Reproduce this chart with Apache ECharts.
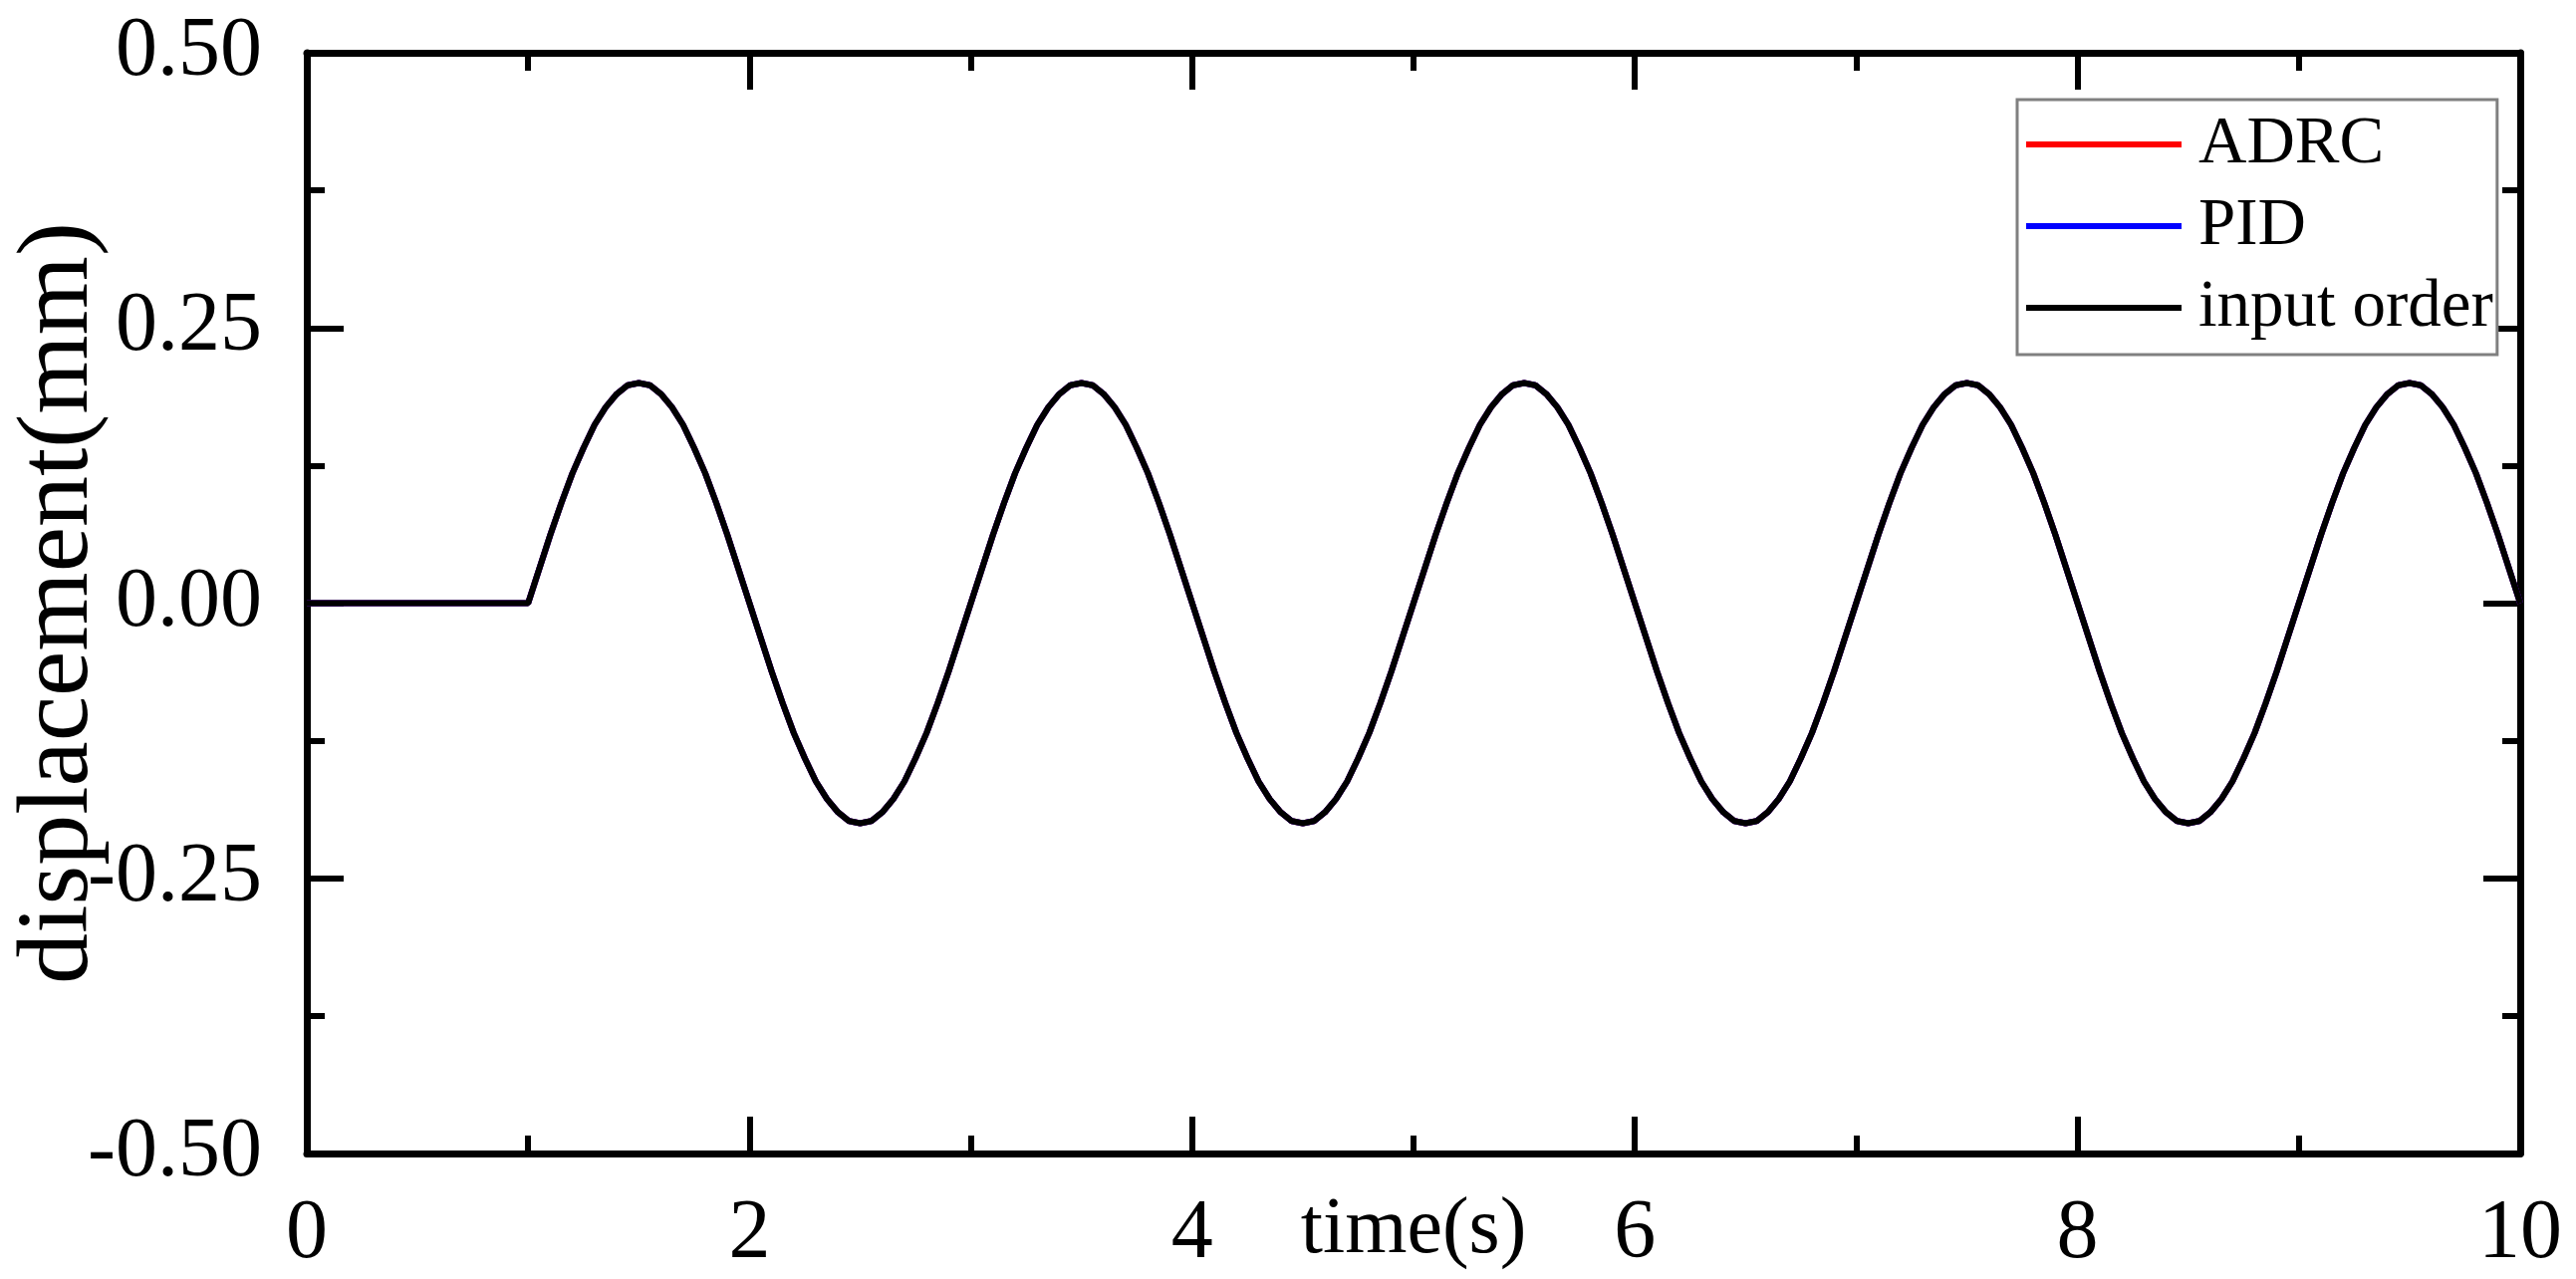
<!DOCTYPE html>
<html>
<head>
<meta charset="utf-8">
<script src="https://cdn.jsdelivr.net/npm/echarts@6/dist/echarts.min.js"></script>
<style>
html,body{margin:0;padding:0;background:#fff;}
#chart{width:2586px;height:1284px;}
</style>
</head>
<body>
<div id="chart"></div>
<script>
// time (s)
const timeS = [
0,0.05,0.1,0.15,0.2,0.25,0.3,0.35,0.4,0.45,0.5,0.55,0.6,0.65,0.7,0.75,0.8,0.85,0.9,0.95,
1,1.05,1.1,1.15,1.2,1.25,1.3,1.35,1.4,1.45,1.5,1.55,1.6,1.65,1.7,1.75,1.8,1.85,1.9,1.95,
2,2.05,2.1,2.15,2.2,2.25,2.3,2.35,2.4,2.45,2.5,2.55,2.6,2.65,2.7,2.75,2.8,2.85,2.9,2.95,
3,3.05,3.1,3.15,3.2,3.25,3.3,3.35,3.4,3.45,3.5,3.55,3.6,3.65,3.7,3.75,3.8,3.85,3.9,3.95,
4,4.05,4.1,4.15,4.2,4.25,4.3,4.35,4.4,4.45,4.5,4.55,4.6,4.65,4.7,4.75,4.8,4.85,4.9,4.95,
5,5.05,5.1,5.15,5.2,5.25,5.3,5.35,5.4,5.45,5.5,5.55,5.6,5.65,5.7,5.75,5.8,5.85,5.9,5.95,
6,6.05,6.1,6.15,6.2,6.25,6.3,6.35,6.4,6.45,6.5,6.55,6.6,6.65,6.7,6.75,6.8,6.85,6.9,6.95,
7,7.05,7.1,7.15,7.2,7.25,7.3,7.35,7.4,7.45,7.5,7.55,7.6,7.65,7.7,7.75,7.8,7.85,7.9,7.95,
8,8.05,8.1,8.15,8.2,8.25,8.3,8.35,8.4,8.45,8.5,8.55,8.6,8.65,8.7,8.75,8.8,8.85,8.9,8.95,
9,9.05,9.1,9.15,9.2,9.25,9.3,9.35,9.4,9.45,9.5,9.55,9.6,9.65,9.7,9.75,9.8,9.85,9.9,9.95,
10
];

// input order displacement (mm)
const inputOrder = [
0,0,0,0,0,0,0,0,0,0,0,0,0,0,0,0,0,0,0,0,
0,0.031,0.062,0.091,0.118,0.141,0.162,0.178,0.19,0.198,0.2,0.198,0.19,0.178,0.162,0.141,0.118,0.091,0.062,0.031,
0,-0.031,-0.062,-0.091,-0.118,-0.141,-0.162,-0.178,-0.19,-0.198,-0.2,-0.198,-0.19,-0.178,-0.162,-0.141,-0.118,-0.091,-0.062,-0.031,
0,0.031,0.062,0.091,0.118,0.141,0.162,0.178,0.19,0.198,0.2,0.198,0.19,0.178,0.162,0.141,0.118,0.091,0.062,0.031,
0,-0.031,-0.062,-0.091,-0.118,-0.141,-0.162,-0.178,-0.19,-0.198,-0.2,-0.198,-0.19,-0.178,-0.162,-0.141,-0.118,-0.091,-0.062,-0.031,
0,0.031,0.062,0.091,0.118,0.141,0.162,0.178,0.19,0.198,0.2,0.198,0.19,0.178,0.162,0.141,0.118,0.091,0.062,0.031,
0,-0.031,-0.062,-0.091,-0.118,-0.141,-0.162,-0.178,-0.19,-0.198,-0.2,-0.198,-0.19,-0.178,-0.162,-0.141,-0.118,-0.091,-0.062,-0.031,
0,0.031,0.062,0.091,0.118,0.141,0.162,0.178,0.19,0.198,0.2,0.198,0.19,0.178,0.162,0.141,0.118,0.091,0.062,0.031,
0,-0.031,-0.062,-0.091,-0.118,-0.141,-0.162,-0.178,-0.19,-0.198,-0.2,-0.198,-0.19,-0.178,-0.162,-0.141,-0.118,-0.091,-0.062,-0.031,
0,0.031,0.062,0.091,0.118,0.141,0.162,0.178,0.19,0.198,0.2,0.198,0.19,0.178,0.162,0.141,0.118,0.091,0.062,0.031,
0
];

// ADRC response (mm) - tracks the input order
const adrc = [
0,0,0,0,0,0,0,0,0,0,0,0,0,0,0,0,0,0,0,0,
0,0.031,0.062,0.091,0.118,0.141,0.162,0.178,0.19,0.198,0.2,0.198,0.19,0.178,0.162,0.141,0.118,0.091,0.062,0.031,
0,-0.031,-0.062,-0.091,-0.118,-0.141,-0.162,-0.178,-0.19,-0.198,-0.2,-0.198,-0.19,-0.178,-0.162,-0.141,-0.118,-0.091,-0.062,-0.031,
0,0.031,0.062,0.091,0.118,0.141,0.162,0.178,0.19,0.198,0.2,0.198,0.19,0.178,0.162,0.141,0.118,0.091,0.062,0.031,
0,-0.031,-0.062,-0.091,-0.118,-0.141,-0.162,-0.178,-0.19,-0.198,-0.2,-0.198,-0.19,-0.178,-0.162,-0.141,-0.118,-0.091,-0.062,-0.031,
0,0.031,0.062,0.091,0.118,0.141,0.162,0.178,0.19,0.198,0.2,0.198,0.19,0.178,0.162,0.141,0.118,0.091,0.062,0.031,
0,-0.031,-0.062,-0.091,-0.118,-0.141,-0.162,-0.178,-0.19,-0.198,-0.2,-0.198,-0.19,-0.178,-0.162,-0.141,-0.118,-0.091,-0.062,-0.031,
0,0.031,0.062,0.091,0.118,0.141,0.162,0.178,0.19,0.198,0.2,0.198,0.19,0.178,0.162,0.141,0.118,0.091,0.062,0.031,
0,-0.031,-0.062,-0.091,-0.118,-0.141,-0.162,-0.178,-0.19,-0.198,-0.2,-0.198,-0.19,-0.178,-0.162,-0.141,-0.118,-0.091,-0.062,-0.031,
0,0.031,0.062,0.091,0.118,0.141,0.162,0.178,0.19,0.198,0.2,0.198,0.19,0.178,0.162,0.141,0.118,0.091,0.062,0.031,
0
];

// PID response (mm) - tracks the input order
const pid = [
0,0,0,0,0,0,0,0,0,0,0,0,0,0,0,0,0,0,0,0,
0,0.031,0.062,0.091,0.118,0.141,0.162,0.178,0.19,0.198,0.2,0.198,0.19,0.178,0.162,0.141,0.118,0.091,0.062,0.031,
0,-0.031,-0.062,-0.091,-0.118,-0.141,-0.162,-0.178,-0.19,-0.198,-0.2,-0.198,-0.19,-0.178,-0.162,-0.141,-0.118,-0.091,-0.062,-0.031,
0,0.031,0.062,0.091,0.118,0.141,0.162,0.178,0.19,0.198,0.2,0.198,0.19,0.178,0.162,0.141,0.118,0.091,0.062,0.031,
0,-0.031,-0.062,-0.091,-0.118,-0.141,-0.162,-0.178,-0.19,-0.198,-0.2,-0.198,-0.19,-0.178,-0.162,-0.141,-0.118,-0.091,-0.062,-0.031,
0,0.031,0.062,0.091,0.118,0.141,0.162,0.178,0.19,0.198,0.2,0.198,0.19,0.178,0.162,0.141,0.118,0.091,0.062,0.031,
0,-0.031,-0.062,-0.091,-0.118,-0.141,-0.162,-0.178,-0.19,-0.198,-0.2,-0.198,-0.19,-0.178,-0.162,-0.141,-0.118,-0.091,-0.062,-0.031,
0,0.031,0.062,0.091,0.118,0.141,0.162,0.178,0.19,0.198,0.2,0.198,0.19,0.178,0.162,0.141,0.118,0.091,0.062,0.031,
0,-0.031,-0.062,-0.091,-0.118,-0.141,-0.162,-0.178,-0.19,-0.198,-0.2,-0.198,-0.19,-0.178,-0.162,-0.141,-0.118,-0.091,-0.062,-0.031,
0,0.031,0.062,0.091,0.118,0.141,0.162,0.178,0.19,0.198,0.2,0.198,0.19,0.178,0.162,0.141,0.118,0.091,0.062,0.031,
0
];

const seriesNames = ['ADRC', 'PID', 'input order'];
const seriesColors = ['#ff0000', '#0000ff', '#000000'];
const xTickLabels = ['0', '2', '4', '6', '8', '10'];
const yTickLabels = ['-0.50', '-0.25', '0.00', '0.25', '0.50'];

function pairs(xs, ys) { return xs.map((x, i) => [x, ys[i]]); }

const FONT = '"Liberation Serif", "Times New Roman", serif';
const AX = '#000';

const tickFontSize = 84;
const axisCommon = {
  axisLine: { show: true, onZero: false, lineStyle: { color: AX, width: 7 } },
  axisTick: { show: true, inside: true, length: 37, lineStyle: { color: AX, width: 6 } },
  minorTick: { show: true, splitNumber: 2, length: 18, lineStyle: { color: AX, width: 6 } },
  splitLine: { show: false },
  minorSplitLine: { show: false }
};

const chart = echarts.init(document.getElementById('chart'), null, { renderer: 'canvas' });
chart.setOption({
  animation: false,
  backgroundColor: '#ffffff',
  grid: { left: 308, right: 56, top: 53, bottom: 126, containLabel: false, outerBoundsMode: 'none' },
  legend: {
    data: seriesNames,
    orient: 'vertical',
    left: 2025,
    top: 100,
    padding: [10, 4, 12, 9],
    itemGap: 12,
    itemWidth: 156,
    itemHeight: 6,
    icon: 'rect',
    borderColor: '#808080',
    borderWidth: 3,
    backgroundColor: '#ffffff',
    textStyle: { fontFamily: FONT, fontSize: 67, color: '#000', lineHeight: 70, padding: [0, 0, 0, 12] }
  },
  xAxis: [
    Object.assign({
      type: 'value', position: 'bottom', min: 0, max: 10, interval: 2,
      name: 'time(s)', nameLocation: 'middle', nameGap: 38, nameMoveOverlap: false,
      nameTextStyle: { fontFamily: FONT, fontSize: 80, color: '#000', verticalAlign: 'top' },
      axisLabel: {
        show: true, margin: 40, color: '#000', fontFamily: FONT, fontSize: tickFontSize,
        formatter: function (v) { return xTickLabels[Math.round(v / 2)]; }
      }
    }, axisCommon),
    Object.assign({
      type: 'value', position: 'top', min: 0, max: 10, interval: 2,
      axisLabel: { show: false }
    }, axisCommon)
  ],
  yAxis: [
    Object.assign({
      type: 'value', position: 'left', min: -0.5, max: 0.5, interval: 0.25,
      name: 'displacement(mm)', nameLocation: 'middle', nameRotate: 90, nameGap: 197, nameMoveOverlap: false,
      nameTextStyle: { fontFamily: FONT, fontSize: 102, color: '#000' },
      axisLabel: {
        show: true, margin: 45, color: '#000', fontFamily: FONT, fontSize: tickFontSize,
        formatter: function (v) { return yTickLabels[Math.round((v + 0.5) / 0.25)]; }
      }
    }, axisCommon),
    Object.assign({
      type: 'value', position: 'right', min: -0.5, max: 0.5, interval: 0.25,
      axisLabel: { show: false }
    }, axisCommon)
  ],
  series: [
    { name: seriesNames[0], type: 'line', data: pairs(timeS, adrc), showSymbol: false, symbol: 'none',
      lineStyle: { color: seriesColors[0], width: 6 }, itemStyle: { color: seriesColors[0] }, z: 2 },
    { name: seriesNames[1], type: 'line', data: pairs(timeS, pid), showSymbol: false, symbol: 'none',
      lineStyle: { color: seriesColors[1], width: 6 }, itemStyle: { color: seriesColors[1] }, z: 3 },
    { name: seriesNames[2], type: 'line', data: pairs(timeS, inputOrder), showSymbol: false, symbol: 'none',
      lineStyle: { color: seriesColors[2], width: 6 }, itemStyle: { color: seriesColors[2] }, z: 4 }
  ]
});
</script>
</body>
</html>
